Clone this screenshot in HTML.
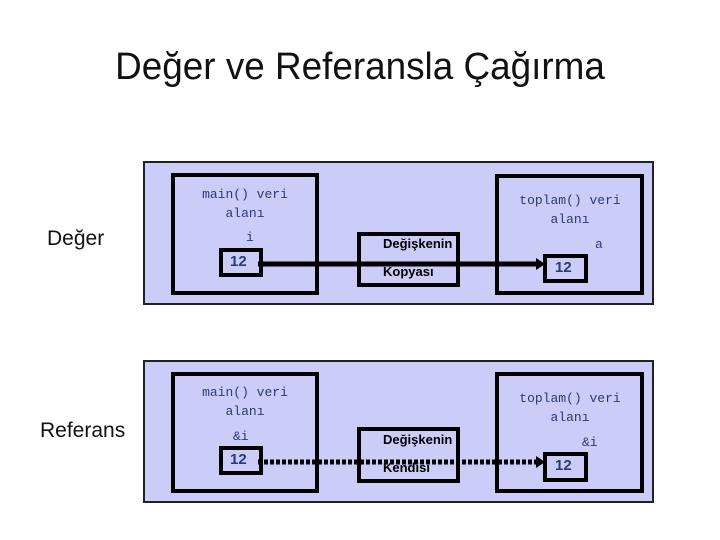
<!DOCTYPE html>
<html><head><meta charset="utf-8"><style>
body{margin:0;width:720px;height:540px;background:#fff;position:relative;overflow:hidden;font-family:"Liberation Sans",sans-serif}
.a{position:absolute;box-sizing:border-box}
.t{position:absolute;white-space:nowrap}
.p{background:#ccccf8;border:2px solid #222}
.b{border:4px solid #000}
.m{font-family:"Liberation Mono",monospace;font-size:13px;color:#2a3a78;text-align:center;line-height:19px}
.n{font-family:"Liberation Sans",sans-serif;font-weight:bold;font-size:15px;color:#2a3a78}
.k{font-weight:bold;font-size:13px;color:#000}
</style></head><body>
<div class="t" style="left:0;width:720px;text-align:center;top:46px;font-size:38px;color:#111;font-family:'Liberation Sans',sans-serif;transform:scaleX(0.97)">Değer ve Referansla Çağırma</div>
<div class="t" style="left:47px;top:227px;font-size:21px;color:#111">Değer</div>
<div class="t" style="left:40px;top:419px;font-size:21px;color:#111">Referans</div>

<!-- top panel -->
<div class="a p" style="left:143px;top:161px;width:511px;height:144px"></div>
<div class="a b" style="left:171px;top:173px;width:148px;height:122px"></div>
<div class="t m" style="left:171px;width:148px;top:185px">main() veri<br>alanı</div>
<div class="t m" style="left:246px;top:228px">i</div>
<div class="a b" style="left:219px;top:248px;width:44px;height:29px"></div>
<div class="t n" style="left:230px;top:253px">12</div>
<div class="a b" style="left:357px;top:232px;width:103px;height:55px"></div>
<div class="t k" style="left:383px;top:236px">Değişkenin</div>
<div class="t k" style="left:383px;top:264px">Kopyası</div>
<div class="a b" style="left:495px;top:174px;width:149px;height:121px"></div>
<div class="t m" style="left:470px;width:200px;top:191px">toplam() veri<br>alanı</div>
<div class="t m" style="left:595px;top:235px">a</div>
<div class="a b" style="left:543px;top:254px;width:45px;height:29px"></div>
<div class="t n" style="left:555px;top:259px">12</div>

<!-- bottom panel -->
<div class="a p" style="left:143px;top:360px;width:511px;height:143px"></div>
<div class="a b" style="left:171px;top:372px;width:148px;height:121px"></div>
<div class="t m" style="left:171px;width:148px;top:383px">main() veri<br>alanı</div>
<div class="t m" style="left:233px;top:427px">&amp;i</div>
<div class="a b" style="left:219px;top:446px;width:44px;height:29px"></div>
<div class="t n" style="left:230px;top:451px">12</div>
<div class="a b" style="left:357px;top:427px;width:103px;height:56px"></div>
<div class="t k" style="left:383px;top:432px">Değişkenin</div>
<div class="t k" style="left:383px;top:460px">Kendisi</div>
<div class="a b" style="left:495px;top:372px;width:149px;height:121px"></div>
<div class="t m" style="left:470px;width:200px;top:389px">toplam() veri<br>alanı</div>
<div class="t m" style="left:582px;top:433px">&amp;i</div>
<div class="a b" style="left:543px;top:452px;width:45px;height:30px"></div>
<div class="t n" style="left:555px;top:457px">12</div>
<svg class="a" style="left:0;top:0" width="720" height="540">
<line x1="258" y1="264" x2="537" y2="264" stroke="#000" stroke-width="5"/>
<polygon points="536,258 545,264 536,270" fill="#000"/>
<line x1="258" y1="462" x2="537" y2="462" stroke="#000" stroke-width="5" stroke-dasharray="4,2"/>
<polygon points="536,456 545,462 536,468" fill="#000"/>
</svg>
</body></html>
